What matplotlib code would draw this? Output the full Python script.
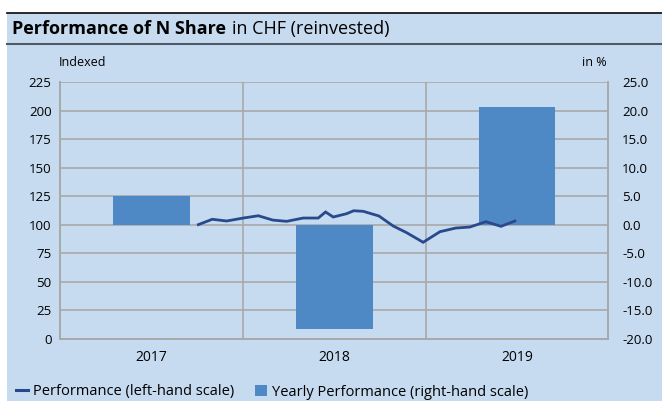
import matplotlib
matplotlib.use("Agg")
import matplotlib.pyplot as plt
from matplotlib.patches import Rectangle, Patch
from matplotlib.lines import Line2D

# ---- data ----
years = ["2017", "2018", "2019"]
yearly_perf = [5.0, -18.4, 20.7]          # % (right-hand scale)
perf_x = [0.257, 0.333, 0.412, 0.503, 0.585, 0.664, 0.740, 0.831, 0.913, 0.953,
          0.995, 1.068, 1.107, 1.159, 1.245, 1.323, 1.397, 1.487, 1.579, 1.665,
          1.743, 1.830, 1.913, 1.989]      # time position (years from start)
perf_idx = [100.0, 104.7, 103.2, 105.8, 107.8, 104.0, 102.9, 105.8, 105.8, 111.1,
            106.7, 109.6, 112.2, 111.7, 107.6, 98.8, 92.9, 84.5, 93.8, 97.0,
            97.9, 102.6, 98.5, 103.2]      # indexed (left-hand scale)
left_ticks = [0, 25, 50, 75, 100, 125, 150, 175, 200, 225]
right_ticks = [-20, -15, -10, -5, 0, 5, 10, 15, 20, 25]

BG = "#c6dbf0"
BAR = "#4f89c5"
LINE = "#284a8c"
GRID = "#a8a8a8"
FONT = "Open Sans"
plt.rcParams["font.family"] = [FONT, "DejaVu Sans"]

W, H = 662, 401
fig = plt.figure(figsize=(W / 100, H / 100), dpi=100)
fig.patch.set_facecolor("white")

def fx(px):
    return px / W

def fy(py):
    return 1 - py / H

# blue panel
fig.patches.append(Rectangle((fx(7), 0), 1 - fx(7), fy(12.5), transform=fig.transFigure,
                             facecolor=BG, edgecolor="none", zorder=-10))
fig.lines.append(Line2D([fx(7), 1], [fy(12.5), fy(12.5)], transform=fig.transFigure,
                        color="#1a1a1a", lw=1.3))
fig.lines.append(Line2D([fx(7), 1], [fy(44.3), fy(44.3)], transform=fig.transFigure,
                        color="#505a66", lw=1.5))

# title
t1 = fig.text(fx(12), fy(29), "Performance of N Share", fontsize=13, fontweight="bold",
              va="center", ha="left", color="black")
fig.canvas.draw()
bb = t1.get_window_extent()
fig.text(bb.x1 / W + fx(6), fy(29), "in CHF (reinvested)", fontsize=13,
         va="center", ha="left", color="black")

# axes
left, right = 60, 608.3
top, bottom = 82.3, 338.5
ax = fig.add_axes([fx(left), fy(bottom), fx(right - left), fy(top) - fy(bottom)])
ax.set_facecolor("none")
ax2 = ax.twinx()
ax2.set_facecolor("none")

x_cat = list(range(len(years)))
ax.set_xlim(-0.5, len(years) - 0.5)
ax.set_ylim(left_ticks[0], left_ticks[-1])
ax2.set_ylim(right_ticks[0], right_ticks[-1])

ax.set_yticks(left_ticks)
ax.set_yticklabels([str(v) for v in left_ticks])
ax2.set_yticks(right_ticks)
ax2.set_yticklabels([f"{v:.1f}" for v in right_ticks])
ax.set_xticks(x_cat)
ax.set_xticklabels(years)

for v in left_ticks:
    ax.axhline(v, color=GRID, lw=1.2, zorder=0)
for b in [0.5, 1.5]:
    ax.axvline(b, color=GRID, lw=1.2, zorder=0)

for a in (ax, ax2):
    for s in a.spines.values():
        s.set_color(GRID)
        s.set_linewidth(1.2)
    a.spines["top"].set_visible(False)
    a.tick_params(length=0, labelsize=9.5, colors="black")
ax.tick_params(axis="y", pad=6)
ax2.tick_params(axis="y", pad=10)
ax.tick_params(axis="x", pad=8, labelsize=10)

ax2.bar(x_cat, yearly_perf, width=0.42, bottom=0, color=BAR, zorder=2)
ax2.plot(perf_x, perf_idx, color=LINE, lw=2.0, transform=ax.transData, zorder=3,
         solid_joinstyle="miter")
ax2.set_ylim(right_ticks[0], right_ticks[-1])

fig.text(fx(83), fy(62), "Indexed", fontsize=9, ha="center", va="center")
fig.text(fx(594), fy(62), "in %", fontsize=9, ha="center", va="center")

handles = [Line2D([0], [0], color=LINE, lw=2.2),
           Patch(facecolor=BAR, edgecolor="none")]
labels = ["Performance (left-hand scale)", "Yearly Performance (right-hand scale)"]
fig.legend(handles, labels, loc="center left", bbox_to_anchor=(fx(10), fy(392)),
           ncol=2, frameon=False, fontsize=10.5, handlelength=0.8, handleheight=0.8,
           handletextpad=0.4, columnspacing=1.4, borderaxespad=0)

fig.savefig("out.png", dpi=100, facecolor=fig.get_facecolor())
